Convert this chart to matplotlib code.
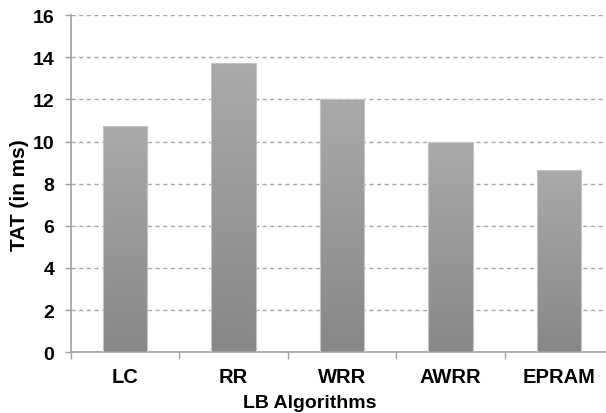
import numpy as np
import matplotlib
matplotlib.use('Agg')
from matplotlib import pyplot as plt

# data
algorithms = ['LC', 'RR', 'WRR', 'AWRR', 'EPRAM']
tat = [10.75, 13.75, 12.0, 10.0, 8.65]

plt.rcParams['font.family'] = ['Liberation Sans', 'DejaVu Sans']

fig = plt.figure(figsize=(6.06, 4.14), dpi=100)
ax = fig.add_axes([0.117, 0.147, 0.895, 0.814])

x = np.arange(len(algorithms))
bars = ax.bar(x, tat, width=0.41, color='none', edgecolor='#c4c4c4', linewidth=0.8, zorder=3)

# vertical gradient fill for each bar (light at top, darker at bottom)
grad = np.linspace(0, 1, 256).reshape(-1, 1)
cmap = matplotlib.colors.LinearSegmentedColormap.from_list('g', ['#878787', '#aaaaaa'])
for b in bars:
    x0, y0 = b.get_x(), b.get_y()
    w, h = b.get_width(), b.get_height()
    im = ax.imshow(grad, cmap=cmap, origin='lower', aspect='auto',
                   extent=[x0, x0 + w, y0, y0 + h], zorder=2)
    im.set_clip_path(b)

ax.set_xlim(-0.5, len(algorithms) - 0.5)
ax.set_ylim(0, 16)
ax.set_yticks(np.arange(0, 17, 2))
ax.set_xticks(x)
ax.set_xticklabels(algorithms, fontsize=14.5, fontweight='bold')
ax.set_xticks(np.arange(-0.5, len(algorithms), 1), minor=True)
ax.tick_params(axis='x', which='major', length=0, pad=11)
ax.tick_params(axis='x', which='minor', length=5, color='#a0a0a0', width=1)
ax.tick_params(axis='y', length=4, color='#a0a0a0', width=1, labelsize=14, pad=8)
for lbl in ax.get_yticklabels():
    lbl.set_fontweight('bold')

ax.grid(axis='y', linestyle=(0, (3, 2.5)), color='#a8a8a8', linewidth=1, zorder=0)
ax.set_axisbelow(True)

for s in ['top', 'right']:
    ax.spines[s].set_visible(False)
for s in ['left', 'bottom']:
    ax.spines[s].set_color('#a0a0a0')
    ax.spines[s].set_linewidth(1.2)

ax.set_xlabel('LB Algorithms', fontsize=14, fontweight='bold')
ax.set_ylabel('TAT (in ms)', fontsize=15, fontweight='bold')
ax.xaxis.set_label_coords(0.44, -0.124)
ax.yaxis.set_label_coords(-0.077, 0.47)

plt.savefig('out.png', dpi=100)
